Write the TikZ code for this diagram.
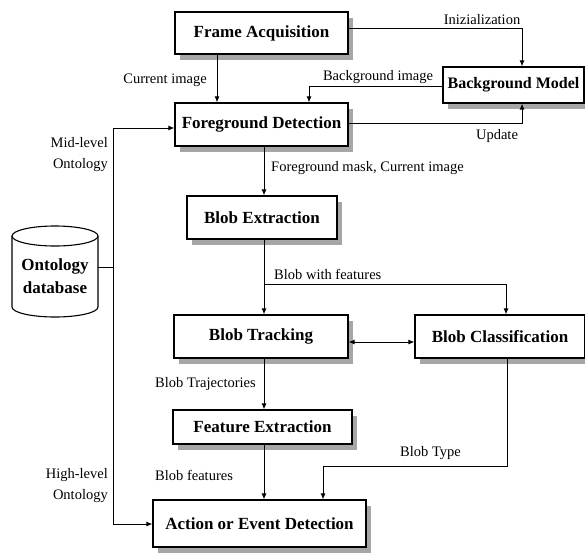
\documentclass[tikz,border=0pt]{standalone}
\usepackage{fontspec}
\setmainfont{Liberation Serif}
\usetikzlibrary{arrows.meta,shadows,calc}
\begin{document}
\begin{tikzpicture}[x=1pt,y=-1pt,
  box/.style={draw,fill=white,line width=1.2pt,inner sep=0pt,
    font=\fontsize{17}{19}\selectfont\bfseries,
    drop shadow={shadow xshift=5pt,shadow yshift=-6pt,fill=black!35,opacity=1}},
  lbl/.style={inner sep=0pt,font=\fontsize{14.5}{21}\selectfont},
  conn/.style={line width=0.9pt},
  arr/.style={conn,-{Latex[length=6pt,width=5pt]}},
  darr/.style={conn,{Latex[length=6pt,width=5pt]}-{Latex[length=6pt,width=5pt]}}]
\useasboundingbox (0,0) rectangle (585,554);
\clip (0,0) rectangle (585,554);
% boxes
\node[box,minimum width=173,minimum height=42] (fa) at (261.5,33) {Frame Acquisition};
\node[box,minimum width=141,minimum height=36,font=\fontsize{16}{18}\selectfont\bfseries] (bm) at (513.5,85) {Background Model};
\node[box,minimum width=173,minimum height=43] (fd) at (261.5,124.5) {Foreground Detection};
\node[box,minimum width=150,minimum height=43] (be) at (262,217.5) {Blob Extraction};
\node[box,minimum width=174,minimum height=43] (bt) at (261,336.5) {Blob Tracking};
\node[box,minimum width=170,minimum height=43] (bc) at (500,336.5) {Blob Classification};
\node[box,minimum width=179,minimum height=34] (fe) at (262.5,427) {Feature Extraction};
\node[box,minimum width=213,minimum height=47] (ae) at (259.5,523.5) {Action or Event Detection};
% database cylinder
\draw[line width=1.1pt,fill=white] (12,236) -- (12,307)
  arc[start angle=180,end angle=360,x radius=43pt,y radius=10pt] -- (98,236)
  arc[start angle=0,end angle=180,x radius=43pt,y radius=10pt] -- cycle;
\draw[line width=1.1pt] (12,236) arc[start angle=180,end angle=360,x radius=43pt,y radius=10pt];
\node[inner sep=0pt,minimum width=86,minimum height=91,align=center,
  font=\fontsize{17}{23}\selectfont\bfseries] (db) at (55,276) {Ontology\\database};
% helper coordinates
\coordinate (x217) at (217,0);
\coordinate (x264) at (264,0);
\coordinate (x309) at (309,0);
\coordinate (x323) at (323,0);
\coordinate (x522) at (522,0);
\coordinate (vl) at (113,267);
\coordinate (y284) at (0,284);
\coordinate (y466) at (0,466);
% connectors
\draw[arr] (fa.south -| x217) -- (fd.north -| x217);
\draw[arr] ([yshift=5pt]fa.east) -| (bm.north -| x522);
\draw[arr] ([yshift=-1pt]bm.west) -| (fd.north -| x309);
\draw[arr] ([yshift=1.5pt]fd.east) -| (bm.south -| x522);
\draw[arr] (fd.south -| x264) -- (be.north -| x264);
\draw[arr] (be.south -| x264) -- (bt.north -| x264);
\draw[arr] (y284 -| x264) -| ([xshift=6pt]bc.north);
\draw[darr] ([yshift=-5.5pt]bt.east) -- ([yshift=-5.5pt]bc.west);
\draw[arr] (bt.south -| x264) -- (fe.north -| x264);
\draw[arr] (fe.south -| x264) -- (ae.north -| x264);
\draw[arr] ([xshift=7pt]bc.south) |- (y466 -| x323) -- (ae.north -| x323);
\draw[conn] (db.east |- vl) -- (vl);
\draw[arr] (vl) |- ([yshift=-3.5pt]fd.west);
\draw[arr] (vl) |- ([yshift=-0.5pt]ae.west);
% labels
\node[lbl] (l1) at (165,80) {Current image};
\node[lbl] (l2) at (482,20) {Inizialization};
\node[lbl] (l3) at (378,77) {Background image};
\node[lbl] (l4) at (497,136) {Update};
\node[lbl,anchor=west] (l5) at (271,168) {Foreground mask, Current image};
\node[lbl,anchor=west] (l6) at (274,274) {Blob with features};
\node[lbl,anchor=west] (l7) at (155,384) {Blob Trajectories};
\node[lbl,anchor=west] (l8) at (155,475) {Blob features};
\node[lbl,anchor=west] (l9) at (400,453) {Blob Type};
\node[lbl,anchor=east,align=right] (l10) at (108,154.5) {Mid-level\\Ontology};
\node[lbl,anchor=east,align=right] (l11) at (108,485.5) {High-level\\Ontology};
\end{tikzpicture}
\end{document}
